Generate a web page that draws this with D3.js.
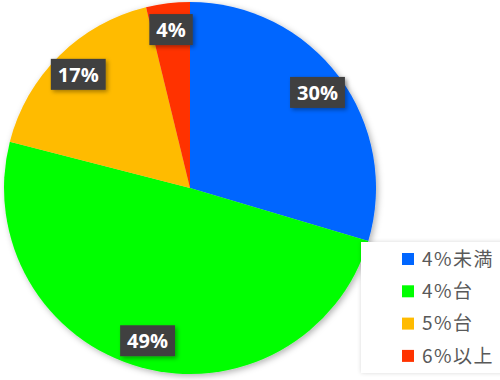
<!DOCTYPE html>
<html><head><meta charset="utf-8">
<script src="https://cdn.jsdelivr.net/npm/d3@7"></script>
<style>body{margin:0;background:#fff}svg{display:block}</style>
</head><body>
<svg id="c" width="500" height="380"></svg>
<script>
const categories = ["4%未満", "4%台", "5%台", "6%以上"];
const values = [29.6, 49.4, 17.2, 3.8];
const colors = ["#0066FF", "#00FF00", "#FFBB00", "#FF3300"];

const svg = d3.select("#c");
const defs = svg.append("defs");
const f = defs.append("filter").attr("id","sh").attr("x","-20%").attr("y","-20%").attr("width","140%").attr("height","140%");
f.append("feDropShadow").attr("dx",2).attr("dy",2).attr("stdDeviation",3).attr("flood-color","#000").attr("flood-opacity",0.3);
const f2 = defs.append("filter").attr("id","sh2").attr("x","-20%").attr("y","-20%").attr("width","140%").attr("height","140%");
f2.append("feDropShadow").attr("dx",2).attr("dy",2).attr("stdDeviation",2).attr("flood-color","#000").attr("flood-opacity",0.35);
const f3 = defs.append("filter").attr("id","sh3").attr("x","-20%").attr("y","-20%").attr("width","140%").attr("height","140%");
f3.append("feDropShadow").attr("dx",0).attr("dy",0).attr("stdDeviation",2).attr("flood-color","#000").attr("flood-opacity",0.15);

const cx = 190, cy = 188, R = 186;
const pie = d3.pie().sort(null).value(d => d)(values);
const arc = d3.arc().innerRadius(0).outerRadius(R);
const labelArc = d3.arc().innerRadius(R*0.855).outerRadius(R*0.855);

const g = svg.append("g").attr("transform", `translate(${cx},${cy})`);
const slices = g.append("g").attr("filter","url(#sh)");
slices.selectAll("path").data(pie).join("path")
  .attr("d", arc).attr("fill", (d,i) => colors[i]);

const total = d3.sum(values);
const lab = g.selectAll("g.lab").data(pie).join("g").attr("class","lab")
  .attr("transform", d => `translate(${labelArc.centroid(d)})`);
lab.each(function(d){
  const s = d3.select(this);
  const txt = Math.round(d.value/total*100) + "%";
  const t = s.append("text").text(txt)
    .attr("text-anchor","middle").attr("dy","0.36em")
    .attr("font-family","'Open Sans', sans-serif").attr("font-weight","bold")
    .attr("font-size",20).attr("fill","#fff");
  const bb = t.node().getBBox();
  s.insert("rect","text").attr("x", bb.x-7).attr("y",-16).attr("width", bb.width+14).attr("height",31)
    .attr("fill","#404040").attr("filter","url(#sh2)");
});

// legend
const lg = svg.append("g");
lg.append("rect").attr("x",361).attr("y",242).attr("width",145).attr("height",131)
  .attr("fill","#fff").attr("filter","url(#sh3)");
const rows = lg.selectAll("g.row").data(categories).join("g").attr("class","row")
  .attr("transform", (d,i) => `translate(402,${259 + i*32.3})`);
rows.append("rect").attr("x",0).attr("y",-6).attr("width",12).attr("height",12)
  .attr("fill",(d,i)=>colors[i]);
rows.append("text").attr("x",20).attr("dy","0.36em").text(d=>d)
  .attr("font-family","'Noto Sans CJK JP', sans-serif").attr("font-size",19)
  .attr("letter-spacing",1.5).attr("fill","#595959");
</script>
</body></html>
